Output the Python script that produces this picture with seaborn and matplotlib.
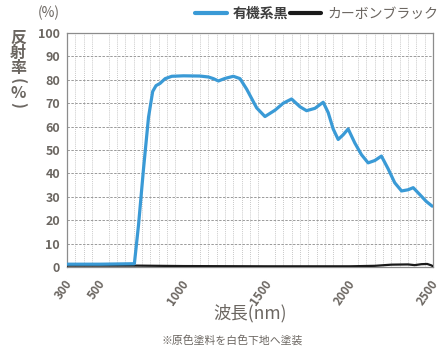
import matplotlib
matplotlib.use("Agg")
import matplotlib.pyplot as plt
import matplotlib.transforms as mtransforms
import seaborn as sns
import pandas as pd
from matplotlib.ticker import MultipleLocator, FixedLocator

sns.set_theme(style="white")
plt.rcParams["font.family"] = ["Noto Sans CJK JP", "DejaVu Sans"]

# Reflectance spectra (wavelength in nm, reflectance in %)
organic_nm = [300, 500, 705, 730, 760, 790, 815, 835, 860, 890, 930, 1000, 1100, 1150,
              1180, 1210, 1250, 1300, 1340, 1380, 1440, 1490, 1550, 1600, 1650, 1700,
              1740, 1790, 1840, 1870, 1900, 1930, 1960, 1990, 2030, 2070, 2110, 2150,
              2190, 2230, 2270, 2311, 2350, 2381, 2420, 2460, 2495]
organic_pct = [1.2, 1.2, 1.4, 18, 42, 64, 75, 77.5, 78.5, 80.5, 81.5, 81.7, 81.6, 81.2,
               80.5, 79.5, 80.6, 81.5, 80.5, 76, 68, 64.3, 67, 70, 71.8, 68.5,
               66.8, 67.8, 70.4, 66, 59, 54.5, 56.5, 59, 53, 48, 44.5, 45.5,
               47.4, 42, 36, 32.5, 33, 33.9, 31, 28, 26]

carbon_nm = [300, 700, 1000, 1500, 2000, 2150, 2250, 2350, 2390, 2430, 2465, 2490, 2500]
carbon_pct = [0.6, 0.6, 0.4, 0.3, 0.3, 0.5, 1.0, 1.1, 0.8, 1.2, 1.3, 0.7, 0.3]

series_names = ["有機系黒", "カーボンブラック"]
series_colors = ["#3a9ad6", "#1a1a1a"]

x_ticks = [300, 500, 1000, 1500, 2000, 2500]
y_ticks = list(range(0, 101, 10))

df = pd.concat([
    pd.DataFrame({"nm": organic_nm, "pct": organic_pct, "series": series_names[0]}),
    pd.DataFrame({"nm": carbon_nm, "pct": carbon_pct, "series": series_names[1]}),
])

fig = plt.figure(figsize=(4.4, 3.52), dpi=100)
ax = fig.add_axes([67 / 440, 1 - 267 / 352, 366 / 440, 234 / 352])

text_col = "#6b6661"

sns.lineplot(data=df[df.series == series_names[1]], x="nm", y="pct", ax=ax,
             color=series_colors[1], lw=1.6, label=series_names[1], zorder=3)
sns.lineplot(data=df[df.series == series_names[0]], x="nm", y="pct", ax=ax,
             color=series_colors[0], lw=2.3, label=series_names[0], zorder=4)

ax.set_xlim(300, 2500)
ax.set_ylim(0, 100)

# grid: dashed every 10 %, dotted every 50 nm
ax.xaxis.set_minor_locator(MultipleLocator(50))
ax.yaxis.set_major_locator(FixedLocator(y_ticks))
ax.xaxis.set_major_locator(FixedLocator(x_ticks))
ax.grid(which="major", axis="y", color="#9a9a9a", lw=0.7, ls=(0, (2.5, 1.5)))
ax.grid(which="minor", axis="x", color="#b5b5b5", lw=0.6, ls=(0, (1, 1.5)))
ax.set_axisbelow(True)

for s in ax.spines.values():
    s.set_color("#8c8c8c")
    s.set_linewidth(0.9)

ax.tick_params(axis="both", which="both", length=0, colors=text_col, labelsize=9)
ax.tick_params(axis="y", pad=5)
ax.tick_params(axis="x", labelsize=8.5, pad=7.5)
ax.set_yticklabels([str(v) for v in y_ticks], fontweight="bold")
ax.set_xticklabels([str(v) for v in x_ticks], rotation=55, ha="right",
                   va="top", rotation_mode="anchor", fontweight="bold")
shift = mtransforms.ScaledTranslation(-3 / 100, 0, fig.dpi_scale_trans)
for lab in ax.get_xticklabels():
    lab.set_transform(lab.get_transform() + shift)

ax.set_xlabel("波長(nm)", fontsize=12.5, color=text_col, va="center")
ax.xaxis.set_label_coords(0.5, (267 - 313) / 234)
ax.set_ylabel("")

# vertical y-axis title, one glyph per row
title_glyphs = [("反", 37.5, 0), ("射", 52.5, 0), ("率", 68, 0),
                ("(", 80.5, -90), ("%", 93.5, 0), (")", 104.5, -90)]
for ch, yp, rot in title_glyphs:
    fig.text(18 / 440, 1 - yp / 352, ch, fontsize=11.5, color=text_col,
             ha="center", va="center", rotation=rot, fontweight="bold")
fig.text(49 / 440, 1 - 13 / 352, "(%)", fontsize=10, color=text_col,
         ha="center", va="center")

fig.text(232 / 440, 1 - 340 / 352, "※原色塗料を白色下地へ塗装", fontsize=7.8,
         color=text_col, ha="center", va="center")

handles, labels = ax.get_legend_handles_labels()
order = [labels.index(n) for n in series_names]
leg = ax.legend([handles[i] for i in order], [labels[i] for i in order],
                ncol=2, frameon=False, loc="center right",
                bbox_to_anchor=(438 / 440, 1 - 14 / 352), bbox_transform=fig.transFigure,
                handlelength=2.3, handletextpad=0.4, columnspacing=0.1,
                fontsize=10, borderaxespad=0, borderpad=0)
for t in leg.get_texts():
    t.set_color(text_col)
leg.get_texts()[0].set_fontweight("bold")
leg.get_texts()[0].set_color("#3d3d3d")
for ln in leg.get_lines():
    ln.set_linewidth(3.0)

fig.savefig("out.png", dpi=100, facecolor="white")
